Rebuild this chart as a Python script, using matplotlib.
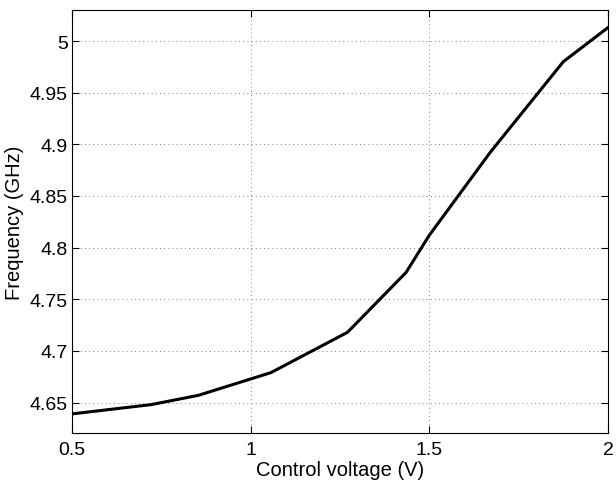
import matplotlib
matplotlib.use("Agg")
import matplotlib.pyplot as plt

plt.rcParams['font.family'] = ['Liberation Sans', 'DejaVu Sans']
plt.rcParams['font.size'] = 14

# control voltage (V) vs oscillation frequency (GHz)
voltage = [0.5, 0.722, 0.854, 1.057, 1.271, 1.435, 1.5, 1.67, 1.875, 2.0]
frequency = [4.639, 4.648, 4.657, 4.679, 4.718, 4.776, 4.812, 4.892, 4.980, 5.013]

x_ticks = [0.5, 1, 1.5, 2]
x_tick_labels = ["0.5", "1", "1.5", "2"]
y_ticks = [4.65, 4.7, 4.75, 4.8, 4.85, 4.9, 4.95, 5.0]
y_tick_labels = ["4.65", "4.7", "4.75", "4.8", "4.85", "4.9", "4.95", "5"]

fig = plt.figure(figsize=(6.16, 4.81), dpi=100)
ax = fig.add_axes([0.1169, 0.0977, 0.8701, 0.8794])

ax.plot(voltage, frequency, color="black", linewidth=2.2)

ax.set_xlim(0.5, 2)
ax.set_ylim(4.6205, 5.03)
ax.set_xticks(x_ticks)
ax.set_xticklabels(x_tick_labels)
ax.set_yticks(y_ticks)
ax.set_yticklabels(y_tick_labels)

ax.grid(True, linestyle=(0, (1, 4)), color="#555555", linewidth=0.6)
ax.tick_params(direction="in", top=True, right=True, length=5, width=0.8)
ax.tick_params(axis="y", pad=3)
ax.tick_params(axis="x", pad=6)
for spine in ax.spines.values():
    spine.set_linewidth(0.8)

ax.set_xlabel("Control voltage (V)", fontsize=14.5, labelpad=1)
ax.set_ylabel("Frequency (GHz)", fontsize=14.5, labelpad=4)

fig.savefig("out.png", dpi=100)
